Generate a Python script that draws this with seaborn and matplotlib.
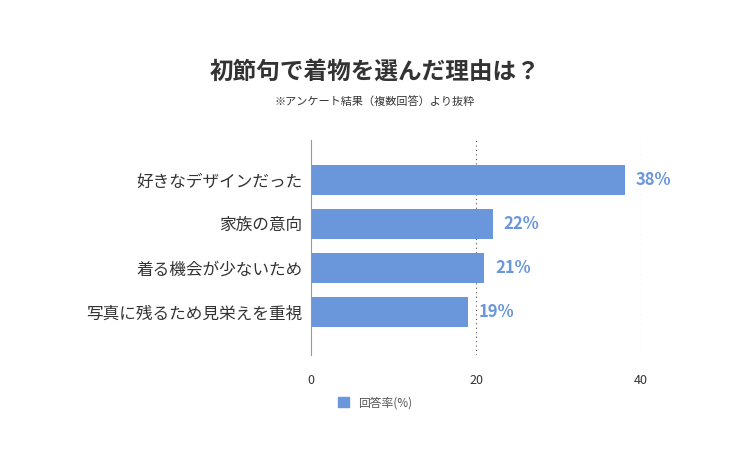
import matplotlib
matplotlib.use("Agg")
import matplotlib.pyplot as plt
import seaborn as sns
import pandas as pd
from matplotlib.patches import Patch

categories = ["好きなデザインだった", "家族の意向", "着る機会が少ないため", "写真に残るため見栄えを重視"]
values = [38, 22, 21, 19]
ticks = [0, 20, 40]

sns.set_style("white")
plt.rcParams['font.family'] = ['Noto Sans CJK JP', 'DejaVu Sans']
color = "#6a96dc"

fig = plt.figure(figsize=(7.5, 4.5), dpi=100)
ax = fig.add_axes([0.4147, 0.211, 0.44, 0.478])
df = pd.DataFrame({"cat": categories, "val": values})
sns.barplot(data=df, x="val", y="cat", color=color, saturation=1, width=0.68, linewidth=0, ax=ax)
ax.set_xlim(0, 40)
ax.set_ylim(3.98, -0.91)
ax.set_xticks(ticks)
ax.set_xlabel(""); ax.set_ylabel("")
for s in ["top", "right", "bottom"]:
    ax.spines[s].set_visible(False)
ax.spines["left"].set_color("#999999")
ax.spines["left"].set_linewidth(0.8)
for t in [20, 40]:
    ax.axvline(t, color="#555555", linestyle=(0, (1, 3)), linewidth=0.8, zorder=0)
ax.tick_params(axis="x", length=0, pad=14, labelsize=9, colors="#333333")
ax.tick_params(axis="y", length=0, pad=6, labelsize=12, colors="#333333")
for i, v in enumerate(values):
    ax.text(v + 1.3, i, f"{v}%", va="center", ha="left", color=color, fontsize=12, fontweight="bold", clip_on=False)

fig.text(0.5, 0.84, "初節句で着物を選んだ理由は？", ha="center", va="center", fontsize=17, fontweight="bold", color="#333333")
fig.text(0.5, 0.775, "※アンケート結果（複数回答）より抜粋", ha="center", va="center", fontsize=8, color="#333333")
fig.legend(handles=[Patch(color=color, label="回答率(%)")], loc="center", bbox_to_anchor=(0.5, 0.105),
           frameon=False, fontsize=8.5, handlelength=0.9, handleheight=0.9, labelcolor="#555555")
fig.savefig("out.png", dpi=100)
